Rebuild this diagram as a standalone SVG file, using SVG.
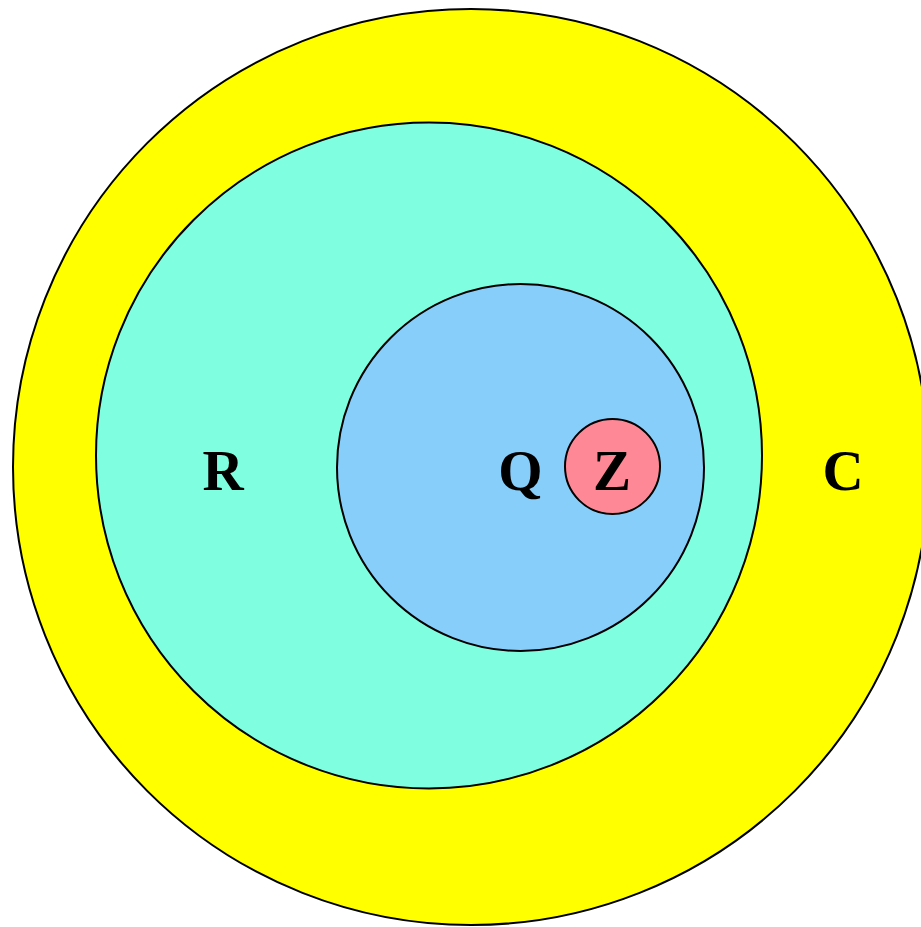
<svg xmlns="http://www.w3.org/2000/svg" width="921" height="927" viewBox="0 0 921 927">
<style>
.c{stroke:#000;stroke-width:2}
.t{font-family:"Liberation Serif","Times New Roman",serif;font-weight:bold;font-size:57px;text-anchor:middle;fill:#000}
</style>
<rect width="921" height="927" fill="#fff"/>
<g id="C"><circle class="c" cx="471" cy="467" r="458" fill="#ffff00"/><text class="t" x="843" y="490">C</text></g>
<g id="R"><circle class="c" cx="429" cy="455.5" r="333" fill="#7fffdf"/><text class="t" x="223" y="490">R</text></g>
<g id="Q"><circle class="c" cx="520.5" cy="467.5" r="183.5" fill="#87cefa"/><text class="t" x="520.5" y="490">Q</text></g>
<g id="Z"><circle class="c" cx="612.5" cy="466.5" r="47.5" fill="#ff8896"/><text class="t" x="612" y="490">Z</text></g>
<g id="connectors"/>
</svg>
